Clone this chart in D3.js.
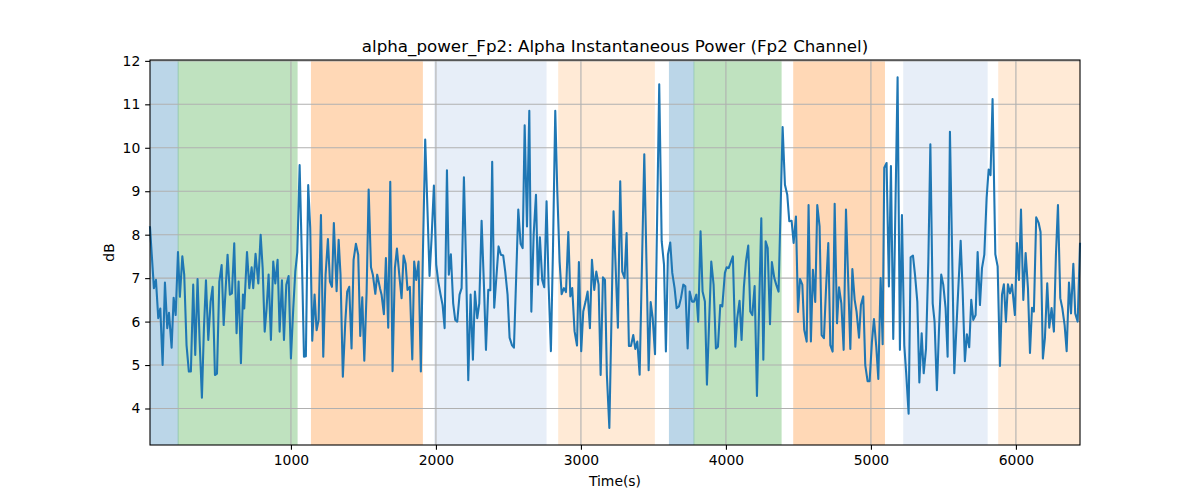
<!DOCTYPE html>
<html>
<head>
<meta charset="utf-8">
<script src="https://cdn.jsdelivr.net/npm/d3@7"></script>
<style>
  html, body { margin: 0; padding: 0; background: #fff; }
  svg { display: block; font-family: "DejaVu Sans", sans-serif; }
</style>
</head>
<body>
<svg id="chart" width="1200" height="500"></svg>
<script>
// ---------- data ----------
const times = [
28,55,69,85,99,115,131,147,159,177,191,205,221,234,251,264,280,296,310,326,340,356,370,386,400,414,430,446,460,476,490,506,522,536,550,563,579,593,609,625,639,655,669,678,697,713,729,740,756,775,791,805,819,
832,846,862,878,892,908,922,938,952,968,984,1000,1016,1030,1044,1060,1076,1090,1103,1119,1133,1147,1163,1177,1191,1207,1223,1239,1255,1269,1283,1296,1315,1329,1342,1358,1375,1388,1402,1418,1432,1448,1464,1478,1492,1506,1522,1536,1552,1565,1582,1595,
1614,1625,1641,1655,1671,1685,1701,1717,1731,1747,1763,1777,1791,1804,1820,1837,1850,1864,1880,1896,1910,1926,1942,1956,1970,1986,2002,2016,2032,2046,2060,2076,2089,2103,2119,2133,2147,2163,2177,2193,2209,2223,2239,2255,2269,2285,2299,2315,2331,2345,2361,2375,2388,2402,
2432,2448,2464,2478,2494,2508,2524,2538,2554,2568,2584,2598,2612,2628,2644,2658,2674,2690,2704,2717,2733,2747,2763,2777,2793,2807,2823,2837,2853,2867,2883,2897,2913,2927,2940,2956,2973,2986,3002,3016,3032,3046,3062,3076,3092,3106,3122,3136,3152,3166,3179,3196,
3225,3255,3271,3285,3301,3315,3331,3345,3361,3375,3389,3405,3437,3467,3481,3495,3511,3540,3557,3573,3586,3600,3616,3630,3646,3660,3676,3690,3706,3720,3736,3750,3766,3780,3796,3809,3825,3839,3855,3869,3899,3915,3931,3945,3961,3975,3993,
4005,4019,4035,4048,4065,4078,4094,4108,4124,4138,4154,4168,4182,4198,4214,4244,4258,4274,4288,4304,4317,4334,4347,4363,4391,4407,4423,4437,4453,4467,4483,4497,4511,4527,4540,4557,4570,4586,4600,4616,4630,4646,4660,4676,4690,4706,4720,4736,4750,4766,4780,
4796,4812,4828,4858,4872,4888,4901,4918,4931,4947,4961,4977,4991,5007,5021,5037,5051,5067,5081,5092,5108,5124,5138,5154,5184,5200,5214,5230,5244,5260,5274,5290,5304,5320,5334,5350,5364,5380,5396,5410,5426,5439,5455,5469,5485,5499,5515,5529,5545,5575,
5596,5619,5632,5648,5662,5678,5692,5706,5722,5736,5752,5766,5782,5798,5812,5825,5839,5858,5874,5890,5904,5917,5931,5945,5959,5973,5993,6007,6021,6035,6051,6067,6083,6097,6111,6124,6140,6157,6170,6186,6200,6216,6230,6246,6262,6276,6290,6306,6320,6336,6350,6366,6380,6396,6409,6426,6442
];
const power = [
8.17,6.77,6.96,6.08,6.3,5.0,6.9,5.85,6.2,5.4,6.55,6.15,7.6,6.57,7.5,7.08,5.46,4.85,4.85,6.85,5.23,6.98,5.58,4.25,5.85,6.95,5.58,6.46,6.8,4.77,4.8,6.92,7.3,5.92,6.77,7.54,6.62,6.65,7.8,5.73,6.92,5.04,6.62,6.3,7.6,6.77,7.25,6.77,7.56,6.88,8.0,7.23,5.77,
6.3,7.08,5.58,7.38,6.88,7.42,5.77,6.95,5.58,6.85,7.05,5.15,6.3,7.15,7.6,9.6,7.38,5.19,5.2,9.14,8.15,5.56,6.62,5.8,6.04,8.45,5.19,7.08,7.9,6.92,6.8,8.27,6.7,7.88,7.08,4.73,6.0,6.69,6.8,5.38,7.42,7.79,7.54,5.67,6.56,5.1,6.69,9.04,7.25,7.08,6.64,7.08,
6.77,6.62,6.17,7.46,5.86,9.22,4.86,7.23,7.68,7.08,6.54,7.52,7.33,6.73,6.8,5.13,7.38,6.96,7.38,4.85,7.54,10.19,8.54,7.05,7.92,9.13,7.31,6.92,6.62,6.38,5.85,9.48,7.08,7.55,6.42,6.04,6.0,6.62,6.77,9.32,7.14,4.65,6.62,5.12,6.69,6.08,6.42,8.32,6.85,5.35,6.73,6.72,9.68,6.32,
7.73,7.54,7.52,7.15,6.62,5.63,5.46,5.4,7.08,8.58,7.79,7.69,10.52,8.19,10.85,6.23,8.0,8.92,6.85,7.94,6.96,6.79,8.77,6.85,5.32,7.62,10.85,9.0,7.38,6.63,6.77,6.68,8.06,6.58,6.77,5.78,5.45,7.37,5.32,6.23,6.46,6.69,5.85,7.42,6.73,7.15,6.85,4.77,7.02,6.96,4.77,3.55,
8.54,5.86,9.23,7.15,7.0,8.04,5.44,5.44,5.69,5.37,5.54,4.78,9.85,4.88,6.45,6.08,5.25,11.46,7.85,7.31,5.31,7.54,7.82,7.12,6.77,6.31,6.35,6.54,6.85,6.81,5.38,6.69,6.46,6.46,6.62,6.0,8.08,6.69,6.46,4.55,7.38,6.85,5.38,5.42,6.38,6.35,7.12,
7.25,7.23,7.38,7.5,5.42,6.08,6.48,5.58,6.8,7.38,7.75,6.23,6.15,6.82,4.29,8.38,5.12,7.85,7.69,5.94,7.37,7.0,6.85,6.69,10.48,9.15,8.92,8.31,8.32,7.81,8.42,6.22,6.98,6.85,5.81,5.54,8.68,5.54,7.19,6.45,8.68,8.19,5.69,5.62,6.73,7.81,5.46,5.31,8.71,5.96,6.79,
6.42,5.35,8.58,5.37,7.21,6.5,6.23,5.63,6.38,6.58,5.0,4.63,4.63,5.54,6.06,5.42,4.68,7.0,5.48,9.54,9.65,6.81,9.58,5.6,11.62,5.35,8.45,5.46,4.77,3.88,7.48,7.52,7.08,6.46,4.6,5.73,4.81,5.38,7.38,10.08,6.42,6.0,4.42,5.77,7.08,6.85,6.31,5.19,10.37,4.81,
6.31,7.86,6.77,5.09,5.71,5.41,6.5,6.04,6.15,7.6,6.38,7.23,7.54,8.85,9.5,9.37,11.12,7.55,7.27,4.98,6.62,6.86,6.0,6.86,6.65,6.85,6.15,7.81,6.96,8.58,6.5,7.58,6.77,5.28,6.32,6.23,8.4,8.27,8.06,5.15,5.62,6.88,5.86,6.31,5.77,7.54,8.68,6.54,6.31,5.92,5.32,6.9,6.19,7.33,6.19,6.0,7.79
];

// shaded stage spans
const spanStart = [28, 219, 1138, 1988, 2843, 3607, 3777, 4464, 5223, 5878];
const spanEnd   = [225, 1046, 1910, 2763, 3510, 3782, 4384, 5097, 5805, 6442];
const spanColor = ["#1f77b4", "#2ca02c", "#ff7f0e", "#aec7e8", "#ffbb78",
                   "#1f77b4", "#2ca02c", "#ff7f0e", "#aec7e8", "#ffbb78"];

const xTicks = [1000, 2000, 3000, 4000, 5000, 6000];
const yTicks = [4, 5, 6, 7, 8, 9, 10, 11, 12];

const titleText = "alpha_power_Fp2: Alpha Instantaneous Power (Fp2 Channel)";
const xLabel = "Time(s)";
const yLabel = "dB";

// ---------- layout ----------
const W = 1200, H = 500;
const m = { left: 150, right: 120, top: 60, bottom: 55 };
const iw = W - m.left - m.right, ih = H - m.top - m.bottom;

const svg = d3.select("#chart");
const g = svg.append("g").attr("transform", `translate(${m.left},${m.top})`);

const x = d3.scaleLinear().domain(d3.extent(times)).range([0, iw]);
const y = d3.scaleLinear().domain([3.16, 12.02]).range([ih, 0]);

// spans
g.append("g").selectAll("rect").data(spanStart).join("rect")
  .attr("x", (d) => x(d))
  .attr("width", (d, i) => x(spanEnd[i]) - x(d))
  .attr("y", 0).attr("height", ih)
  .attr("fill", (d, i) => spanColor[i])
  .attr("fill-opacity", 0.3);

// grid
const grid = g.append("g");
grid.selectAll(".gx").data(xTicks).join("line")
  .attr("x1", (d) => x(d)).attr("x2", (d) => x(d))
  .attr("y1", 0).attr("y2", ih)
  .attr("stroke", "#b0b0b0").attr("stroke-width", 1.1);
grid.selectAll(".gy").data(yTicks).join("line")
  .attr("x1", 0).attr("x2", iw)
  .attr("y1", (d) => y(d)).attr("y2", (d) => y(d))
  .attr("stroke", "#b0b0b0").attr("stroke-width", 1.1);

// line
const pts = times.map((t, i) => [t, power[i]]);
g.append("path")
  .datum(pts)
  .attr("fill", "none")
  .attr("stroke", "#1f77b4")
  .attr("stroke-width", 2.08)
  .attr("stroke-linejoin", "round")
  .attr("stroke-linecap", "square")
  .attr("d", d3.line().x((d) => x(d[0])).y((d) => y(d[1])));

// axes
const tickLen = 4.86, tickPad = 4.86;
const xAxis = g.append("g").attr("transform", `translate(0,${ih})`)
  .call(d3.axisBottom(x).tickValues(xTicks).tickFormat(d3.format("d"))
    .tickSize(tickLen).tickPadding(tickPad));
const yAxis = g.append("g")
  .call(d3.axisLeft(y).tickValues(yTicks).tickFormat(d3.format("d"))
    .tickSize(tickLen).tickPadding(tickPad));
[xAxis, yAxis].forEach((a) => {
  a.select(".domain").remove();
  a.selectAll(".tick line").attr("stroke", "#000").attr("stroke-width", 1.1);
  a.selectAll(".tick text").attr("fill", "#000")
    .style("font-family", "DejaVu Sans").style("font-size", "13.9px");
});

// spines
g.append("rect").attr("x", 0).attr("y", 0).attr("width", iw).attr("height", ih)
  .attr("fill", "none").attr("stroke", "#000").attr("stroke-width", 1.1);

// texts
svg.append("text")
  .attr("x", m.left + iw / 2).attr("y", m.top - 8.3)
  .attr("text-anchor", "middle")
  .style("font-size", "16.7px").attr("fill", "#000")
  .text(titleText);
svg.append("text")
  .attr("x", m.left + iw / 2).attr("y", 486)
  .attr("text-anchor", "middle")
  .style("font-size", "13.9px").attr("fill", "#000")
  .text(xLabel);
svg.append("text")
  .attr("transform", `translate(114,${m.top + ih / 2}) rotate(-90)`)
  .attr("text-anchor", "middle")
  .style("font-size", "13.9px").attr("fill", "#000")
  .text(yLabel);
</script>
</body>
</html>
